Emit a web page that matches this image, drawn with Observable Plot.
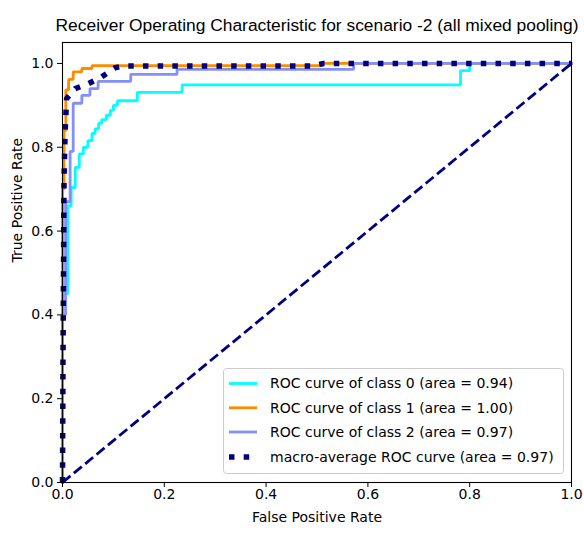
<!DOCTYPE html>
<html><head><meta charset="utf-8">
<script src="https://cdn.jsdelivr.net/npm/d3@7"></script>
<script src="https://cdn.jsdelivr.net/npm/@observablehq/plot@0.6"></script>
<style>body{margin:0;background:#fff}</style>
</head><body><div id="chart"></div>
<script>
const title = "Receiver Operating Characteristic for scenario -2 (all mixed pooling)";
const xLabel = "False Positive Rate";
const yLabel = "True Positive Rate";
const xTicks = [0, 0.2, 0.4, 0.6, 0.8, 1.0];
const yTicks = [0, 0.2, 0.4, 0.6, 0.8, 1.0];
const seriesNames = [
  "ROC curve of class 0 (area = 0.94)",
  "ROC curve of class 1 (area = 1.00)",
  "ROC curve of class 2 (area = 0.97)",
  "macro-average ROC curve (area = 0.97)"
];
const seriesColors = ["#00ffff", "#ff8c00", "#8490f5", "#000080"];

// corner points: at each fpr the curve rises to tpr (step-after)
const class0Fpr = [0, 0, 0.010, 0.017, 0.025, 0.033, 0.041, 0.050, 0.058, 0.064, 0.071, 0.077, 0.086, 0.094, 0.100, 0.108, 0.147, 0.235, 0.782, 0.800, 1.0];
const class0Tpr = [0, 0.45, 0.66, 0.704, 0.752, 0.784, 0.800, 0.816, 0.833, 0.844, 0.857, 0.866, 0.876, 0.888, 0.900, 0.911, 0.931, 0.949, 0.983, 1.0, 1.0];

const class1Fpr = [0, 0, 0.003, 0.0065, 0.012, 0.021, 0.038, 0.058, 0.51, 1.0];
const class1Tpr = [0, 0.70, 0.84, 0.937, 0.962, 0.980, 0.988, 0.995, 1.0, 1.0];

const class2Fpr = [0, 0, 0.006, 0.015, 0.021, 0.038, 0.054, 0.070, 0.134, 0.225, 0.572, 1.0];
const class2Tpr = [0, 0.40, 0.67, 0.79, 0.905, 0.924, 0.940, 0.957, 0.974, 0.986, 1.0, 1.0];

// macro-average (linear interpolation between points)
const macroFpr = [0, 0.001, 0.003, 0.005, 0.008, 0.025, 0.051, 0.077, 0.104, 0.12, 0.49, 0.513, 1.0];
const macroTpr = [0, 0.30, 0.72, 0.83, 0.916, 0.940, 0.952, 0.968, 0.990, 0.994, 0.994, 1.0, 1.0];

const diagFpr = [0, 1];
const diagTpr = [0, 1];

const rows = (fpr, tpr) => fpr.map((x, i) => ({fpr: x, tpr: tpr[i]}));

const lineW = 2.8;
const plot = Plot.plot({
  width: 584,
  height: 535,
  marginLeft: 62,
  marginRight: 13,
  marginTop: 42,
  marginBottom: 53,
  style: {fontFamily: "DejaVu Sans", fontSize: "14px", color: "#000", background: "#fff"},
  x: {domain: [0, 1], label: null},
  y: {domain: [0, 1.05], label: null},
  marks: [
    Plot.line(rows(class0Fpr, class0Tpr), {x: "fpr", y: "tpr", stroke: seriesColors[0], strokeWidth: lineW, curve: "step-after", strokeLinecap: "square", strokeLinejoin: "miter"}),
    Plot.line(rows(class1Fpr, class1Tpr), {x: "fpr", y: "tpr", stroke: seriesColors[1], strokeWidth: lineW, curve: "step-after", strokeLinecap: "square", strokeLinejoin: "miter"}),
    Plot.line(rows(class2Fpr, class2Tpr), {x: "fpr", y: "tpr", stroke: seriesColors[2], strokeWidth: lineW, curve: "step-after", strokeLinecap: "square", strokeLinejoin: "miter"}),
    Plot.line(rows(diagFpr, diagTpr), {x: "fpr", y: "tpr", stroke: "#000080", strokeWidth: lineW, strokeDasharray: "10.3,4.4", strokeLinecap: "butt"}),
    Plot.line(rows(macroFpr, macroTpr), {x: "fpr", y: "tpr", stroke: seriesColors[3], strokeWidth: 5.5, strokeDasharray: "5.5,9.2", strokeLinecap: "butt", strokeLinejoin: "miter"}),
    Plot.frame({stroke: "#000", strokeWidth: 1.1}),
    Plot.axisX({ticks: xTicks, tickFormat: d3.format(".1f"), tickSize: 5, tickPadding: 2, label: null, fontSize: 14}),
    Plot.axisY({ticks: yTicks, tickFormat: d3.format(".1f"), tickSize: 5, tickPadding: 4, label: null, fontSize: 14}),
    Plot.text([xLabel], {frameAnchor: "bottom", dy: 39, fontSize: 14, fill: "#000"}),
    Plot.text([yLabel], {frameAnchor: "left", dx: -45, rotate: -90, fontSize: 14, fill: "#000"}),
    Plot.text([title], {frameAnchor: "top", dy: -24, fontSize: 17.4, fontFamily: "Liberation Sans", fill: "#000"})
  ]
});

// legend
const svg = d3.select(plot);
const lg = svg.append("g").attr("font-family", "DejaVu Sans").attr("font-size", 14).attr("text-anchor", "start");
lg.append("rect").attr("x", 223.5).attr("y", 368.5).attr("width", 340).attr("height", 105)
  .attr("rx", 3).attr("fill", "#fff").attr("fill-opacity", 0.8).attr("stroke", "#cccccc").attr("stroke-width", 1);
const rowY = [383.5, 407.8, 432, 457];
seriesNames.forEach((name, i) => {
  const y = rowY[i];
  const ln = lg.append("line").attr("x1", 229).attr("x2", 257).attr("y1", y).attr("y2", y)
    .attr("stroke", seriesColors[i]);
  if (i === 3) ln.attr("stroke-width", 5.5).attr("stroke-dasharray", "5.5,9.2");
  else ln.attr("stroke-width", lineW);
  lg.append("text").attr("x", 270).attr("y", y).attr("dy", "0.35em").attr("fill", "#000").text(name);
});

document.getElementById("chart").appendChild(plot);
</script>
</body></html>
